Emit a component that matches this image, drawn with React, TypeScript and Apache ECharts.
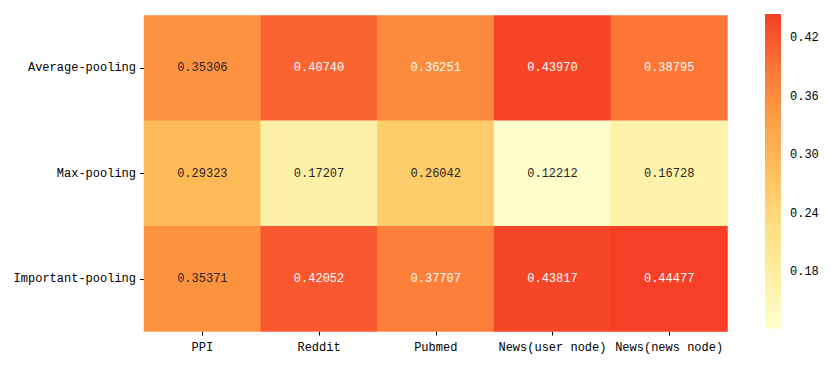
import React, { useEffect, useRef } from "react";
import * as echarts from "echarts";

const columns = ["PPI", "Reddit", "Pubmed", "News(user node)", "News(news node)"];
const rows = ["Average-pooling", "Max-pooling", "Important-pooling"];
const averagePooling = [0.35306, 0.4074, 0.36251, 0.4397, 0.38795];
const maxPooling = [0.29323, 0.17207, 0.26042, 0.12212, 0.16728];
const importantPooling = [0.35371, 0.42052, 0.37707, 0.43817, 0.44477];
const colorbarTicks = [0.18, 0.24, 0.3, 0.36, 0.42];

const palette = ["#ffffcc", "#ffefa5", "#fede80", "#fec05b", "#fd9f44", "#fd7435", "#f53f26"];
const FONT = "'Liberation Mono', 'DejaVu Sans Mono', monospace";

export default function App() {
  const ref = useRef<HTMLDivElement>(null);
  useEffect(() => {
    document.body.style.margin = "0";
    const chart = echarts.init(ref.current!, null, { renderer: "svg" });
    const matrix = [averagePooling, maxPooling, importantPooling];
    const all = matrix.flat();
    const vmin = Math.min(...all);
    const vmax = Math.max(...all);
    const data: any[] = [];
    matrix.forEach((row, yi) =>
      row.forEach((v, xi) =>
        data.push({
          value: [xi, yi, v],
          label: { color: v > 0.36 ? "#ffffff" : "#262626" },
        })
      )
    );
    const stops = palette.map((c, i) => ({ offset: i / (palette.length - 1), color: c }));
    chart.setOption({
      animation: false,
      textStyle: { fontFamily: FONT },
      grid: [
        { left: 144, top: 15.5, width: 583.5, height: 316 },
        { left: 765, top: 14, width: 16, height: 315 },
      ],
      xAxis: [
        {
          type: "category",
          data: columns,
          gridIndex: 0,
          axisLine: { show: false },
          axisTick: { show: true, alignWithLabel: true, length: 4, lineStyle: { color: "#000" } },
          axisLabel: { color: "#000", fontSize: 12, fontFamily: FONT, margin: 10, interval: 0 },
          splitLine: { show: false },
        },
        { type: "value", gridIndex: 1, min: 0, max: 1, show: false },
      ],
      yAxis: [
        {
          type: "category",
          data: rows,
          gridIndex: 0,
          inverse: true,
          axisLine: { show: false },
          axisTick: { show: true, alignWithLabel: true, length: 4, lineStyle: { color: "#000" } },
          axisLabel: { color: "#000", fontSize: 12, fontFamily: FONT, margin: 8 },
          splitLine: { show: false },
        },
        {
          type: "value",
          gridIndex: 1,
          position: "right",
          min: vmin,
          max: vmax,
          axisLine: { show: false },
          splitLine: { show: false },
          axisTick: { show: true, length: 4, customValues: colorbarTicks, lineStyle: { color: "#000" } },
          axisLabel: {
            show: true,
            customValues: colorbarTicks,
            margin: 9,
            color: "#000",
            fontSize: 12,
            fontFamily: FONT,
            formatter: (v: number) => v.toFixed(2),
          },
        },
      ],
      visualMap: {
        show: false,
        seriesIndex: 0,
        min: vmin,
        max: vmax,
        inRange: { color: palette },
      },
      series: [
        {
          type: "heatmap",
          xAxisIndex: 0,
          yAxisIndex: 0,
          data,
          label: {
            show: true,
            fontSize: 12,
            fontFamily: FONT,
            formatter: (p: any) => p.value[2].toFixed(5),
          },
          itemStyle: { borderWidth: 0 },
          emphasis: { disabled: true },
        },
        {
          type: "custom",
          xAxisIndex: 1,
          yAxisIndex: 1,
          data: [[0, vmin, vmax]],
          silent: true,
          renderItem: (params: any, api: any) => {
            const p0 = api.coord([0, api.value(2)]);
            const p1 = api.coord([1, api.value(1)]);
            return {
              type: "rect",
              shape: { x: p0[0], y: p0[1], width: p1[0] - p0[0], height: p1[1] - p0[1] },
              style: { fill: new echarts.graphic.LinearGradient(0, 1, 0, 0, stops) },
            };
          },
        },
      ],
    });
    return () => chart.dispose();
  }, []);
  return <div ref={ref} style={{ width: 831, height: 365 }} />;
}
